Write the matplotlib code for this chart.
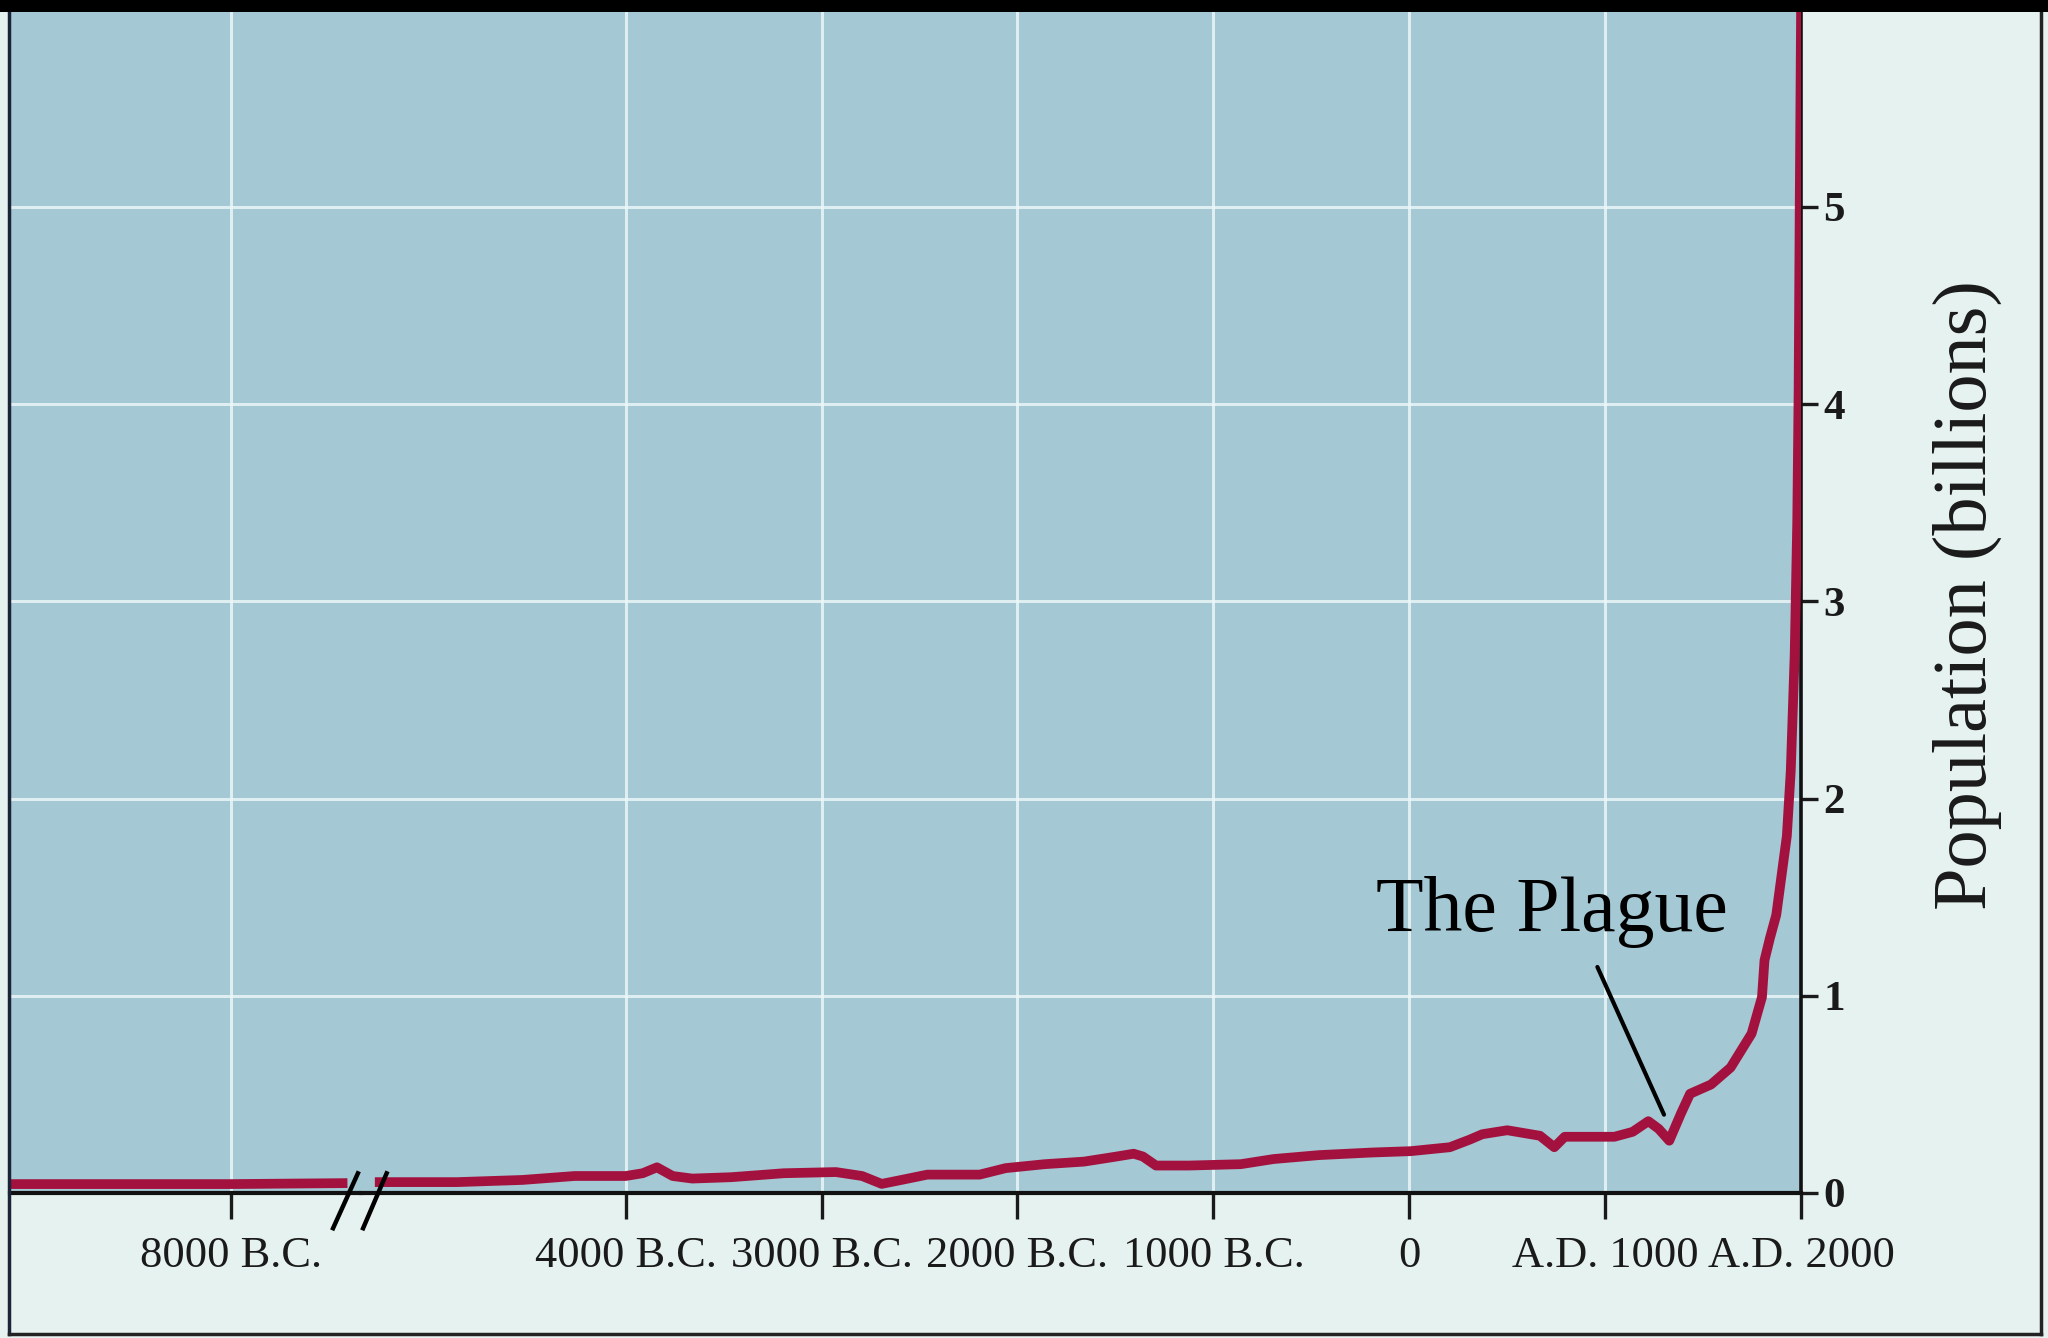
import matplotlib
matplotlib.use("Agg")
import matplotlib.pyplot as plt
from matplotlib.lines import Line2D
from matplotlib.patches import Rectangle

# ---------------- data ----------------
early_years = [-9127, -8000, -7407]
early_pop = [0.045, 0.045, 0.05]

years = [-5280, -4860, -4527, -4260, -4000, -3913, -3840, -3760, -3660, -3460,
         -3193, -2927, -2793, -2693, -2593, -2460, -2193, -2060, -1860, -1660,
         -1493, -1407, -1360, -1293, -1127, -860, -693, -460, -193, 7,
         207, 307, 373, 500, 667, 740, 793, 1047, 1140, 1220,
         1273, 1327, 1387, 1433, 1540, 1640, 1747, 1800, 1813, 1840,
         1873, 1900, 1927, 1947, 1967, 1980, 1987, 1993, 2000]
pop = [0.055, 0.055, 0.066, 0.086, 0.086, 0.10, 0.13, 0.086, 0.073, 0.08,
       0.10, 0.106, 0.086, 0.046, 0.066, 0.093, 0.093, 0.126, 0.146, 0.159,
       0.185, 0.199, 0.185, 0.139, 0.139, 0.146, 0.172, 0.192, 0.205, 0.212,
       0.232, 0.27, 0.298, 0.318, 0.29, 0.232, 0.285, 0.285, 0.31, 0.364,
       0.325, 0.265, 0.404, 0.503, 0.55, 0.636, 0.808, 0.993, 1.18, 1.29,
       1.41, 1.61, 1.81, 2.14, 2.73, 3.40, 4.06, 5.05, 6.05]

left_ticks = [-8000]
left_labels = ["8000 B.C."]
right_ticks = [-4000, -3000, -2000, -1000, 0, 1000, 2000]
right_labels = ["4000 B.C.", "3000 B.C.", "2000 B.C.", "1000 B.C.", "0",
                "A.D. 1000", "A.D. 2000"]
y_ticks = [0, 1, 2, 3, 4, 5]
y_labels = ["0", "1", "2", "3", "4", "5"]

plague_label = "The Plague"
plague_point = (1300, 0.397)
plague_text_start = (960, 1.146)
ylabel = "Population (billions)"

# ---------------- style ----------------
FONT = "Liberation Serif"
BG = "#a4c8d4"
PAPER = "#e5f2ef"
RED = "#a3123f"
GRID = "#eef8f9"
INK = "#1a1a1a"

W, H = 1568.0, 1024.0   # reference display coordinates
def fx(d): return d / W
def fy(d): return 1 - d / H

fig = plt.figure(figsize=(20.48, 13.38), dpi=100)
fig.patch.set_facecolor(PAPER)

ax_bottom = fy(913)
ax_top = fy(9)
brk = 276.5
ax1 = fig.add_axes([fx(8), ax_bottom, fx(brk) - fx(8), ax_top - ax_bottom])
ax2 = fig.add_axes([fx(brk), ax_bottom, fx(1379) - fx(brk), ax_top - ax_bottom])

ymax = 5.99
for ax in (ax1, ax2):
    ax.set_facecolor(BG)
    ax.set_ylim(0, ymax)
    ax.grid(True, color=GRID, lw=2.2, alpha=0.8)
    ax.set_axisbelow(True)
    for s in ("top", "left", "right"):
        ax.spines[s].set_visible(False)
    ax.spines["bottom"].set_linewidth(3.0)
    ax.spines["bottom"].set_color("#111111")
    ax.tick_params(axis="x", direction="out", length=19, width=2.4,
                   pad=12, labelsize=32, colors=INK)

ax1.set_xlim(-9127, -7337)
ax2.set_xlim(-5350, 2000)

ax1.set_xticks(left_ticks)
ax1.set_xticklabels(left_labels, family=FONT)
ax2.set_xticks(right_ticks)
ax2.set_xticklabels(right_labels, family=FONT)

ax1.set_yticks([1, 2, 3, 4, 5])
ax1.tick_params(axis="y", length=0, labelleft=False)

ax2.spines["right"].set_visible(True)
ax2.spines["right"].set_linewidth(2.6)
ax2.spines["right"].set_color("#111111")
ax2.yaxis.tick_right()
ax2.set_yticks(y_ticks)
ax2.set_yticklabels(y_labels, family=FONT, fontweight="bold")
ax2.tick_params(axis="y", direction="out", length=12, width=2.4, pad=4,
                labelsize=31, colors=INK, left=False, right=True)
ax2.yaxis.set_label_position("right")
ax2.set_ylabel(ylabel, family=FONT, fontsize=55, color=INK, rotation=90)
ax2.yaxis.set_label_coords(1.0916, 0.5066)

# population line
ax1.plot(early_years, early_pop, color=RED, lw=7, solid_capstyle="butt",
         solid_joinstyle="round", zorder=3)
ax2.plot(years, pop, color=RED, lw=7, solid_capstyle="butt",
         solid_joinstyle="round", zorder=3)

# plague annotation
ax2.annotate("", xy=plague_point, xytext=plague_text_start,
             arrowprops=dict(arrowstyle="-", color="black", lw=3,
                             shrinkA=0, shrinkB=0))
ax2.text(727, 1.33, plague_label, family=FONT, fontsize=56, color="black",
         ha="center", va="baseline")

# axis break marks
for x0, x1 in ((255, 274), (278, 296)):
    fig.add_artist(Line2D([fx(x0), fx(x1)], [fy(940), fy(898)],
                          color="black", lw=3.2, transform=fig.transFigure))

# page frame: black band at top, thin dark borders
fig.add_artist(Rectangle((0, ax_top), 1, 1 - ax_top, transform=fig.transFigure,
                         facecolor="black", edgecolor="none", zorder=5))
fig.add_artist(Line2D([fx(7), fx(7)], [fy(1021), 1], color="#1c2438", lw=2.5,
                      transform=fig.transFigure))
fig.add_artist(Line2D([fx(7), fx(1563)], [fy(1021), fy(1021)], color="#222222",
                      lw=2.5, transform=fig.transFigure))
fig.add_artist(Line2D([fx(1563), fx(1563)], [fy(1021), 1], color="#222222",
                      lw=2.5, transform=fig.transFigure))

fig.savefig("out.png", dpi=100, facecolor=fig.get_facecolor())
